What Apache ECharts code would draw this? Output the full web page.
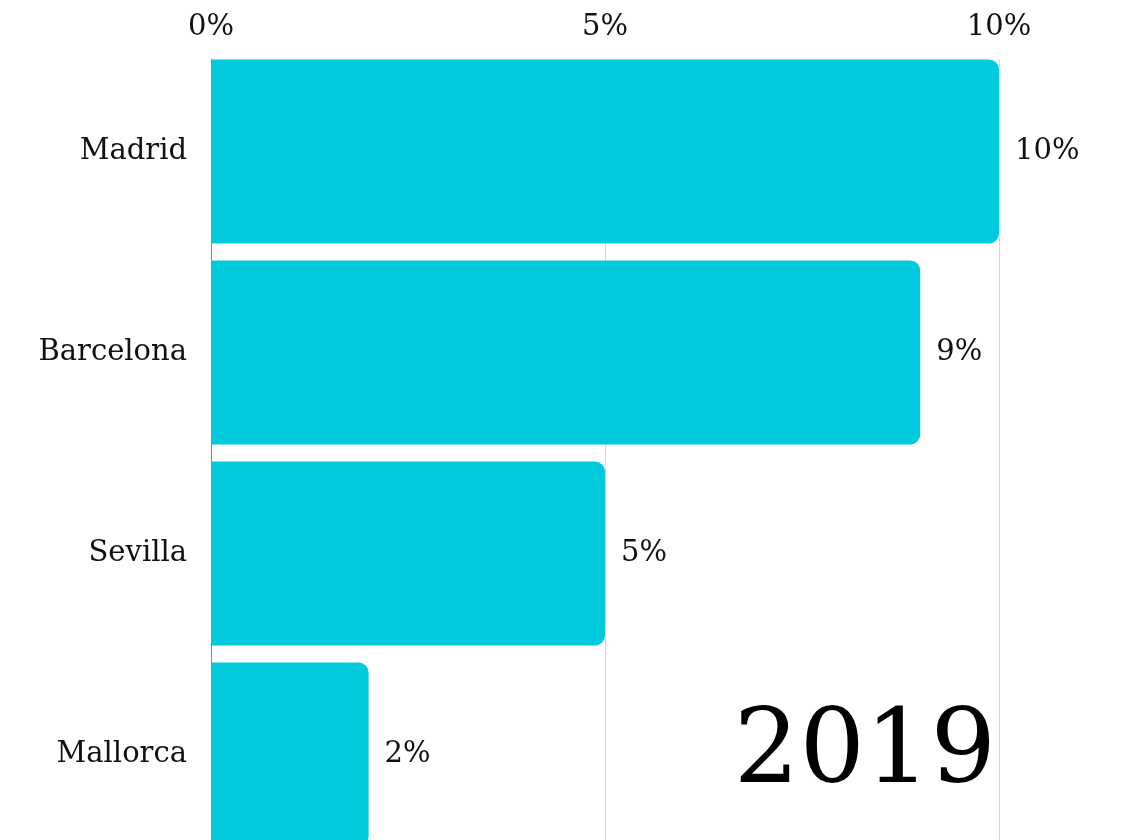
<!DOCTYPE html>
<html>
<head>
<meta charset="utf-8">
<script src="https://cdn.jsdelivr.net/npm/echarts@6/dist/echarts.min.js"></script>
<style>
html,body{margin:0;padding:0;background:#fff;overflow:hidden;}
#chart{width:1123px;height:900px;}
</style>
</head>
<body>
<div id="chart"></div>
<script>
const categories = ["Madrid", "Barcelona", "Sevilla", "Mallorca"];
const values = [10, 9, 5, 2];
const tickValues = [0, 5, 10];
const yearLabel = "2019";

const FONT = "'DejaVu Serif', serif";
const chart = echarts.init(document.getElementById('chart'), null, {renderer: 'canvas'});
chart.setOption({
  animation: false,
  backgroundColor: '#ffffff',
  grid: {left: 211, right: 124, top: 51, height: 804, containLabel: false},
  xAxis: {
    type: 'value',
    position: 'top',
    min: tickValues[0],
    max: tickValues[tickValues.length - 1],
    interval: tickValues[1] - tickValues[0],
    axisLine: {show: false},
    axisTick: {show: false},
    axisLabel: {
      formatter: '{value}%',
      color: '#111',
      fontFamily: FONT,
      fontSize: 29,
      margin: 9
    },
    splitLine: {show: true, lineStyle: {color: '#d9d9d9', width: 1}}
  },
  yAxis: {
    type: 'category',
    data: categories,
    inverse: true,
    axisLine: {show: true, lineStyle: {color: '#888', width: 1}},
    axisTick: {show: false},
    axisLabel: {
      color: '#111',
      fontFamily: FONT,
      fontSize: 29,
      margin: 24
    }
  },
  series: [{
    type: 'bar',
    data: values,
    barCategoryGap: '8.5%',
    itemStyle: {color: '#00cadb', borderRadius: [0, 10, 10, 0]},
    label: {
      show: true,
      position: 'right',
      distance: 16,
      formatter: '{c}%',
      color: '#111',
      fontFamily: FONT,
      fontSize: 29
    },
    z: 3
  }],
  graphic: [{
    type: 'rect',
    z: 1,
    left: 200,
    top: 48,
    shape: {width: 810, height: 11},
    style: {fill: '#ffffff'}
  }, {
    type: 'text',
    right: 1123 - 996,
    top: 704,
    z: 4,
    style: {
      text: yearLabel,
      font: "103px 'DejaVu Serif', serif",
      fill: '#000'
    }
  }]
});
</script>
</body>
</html>
